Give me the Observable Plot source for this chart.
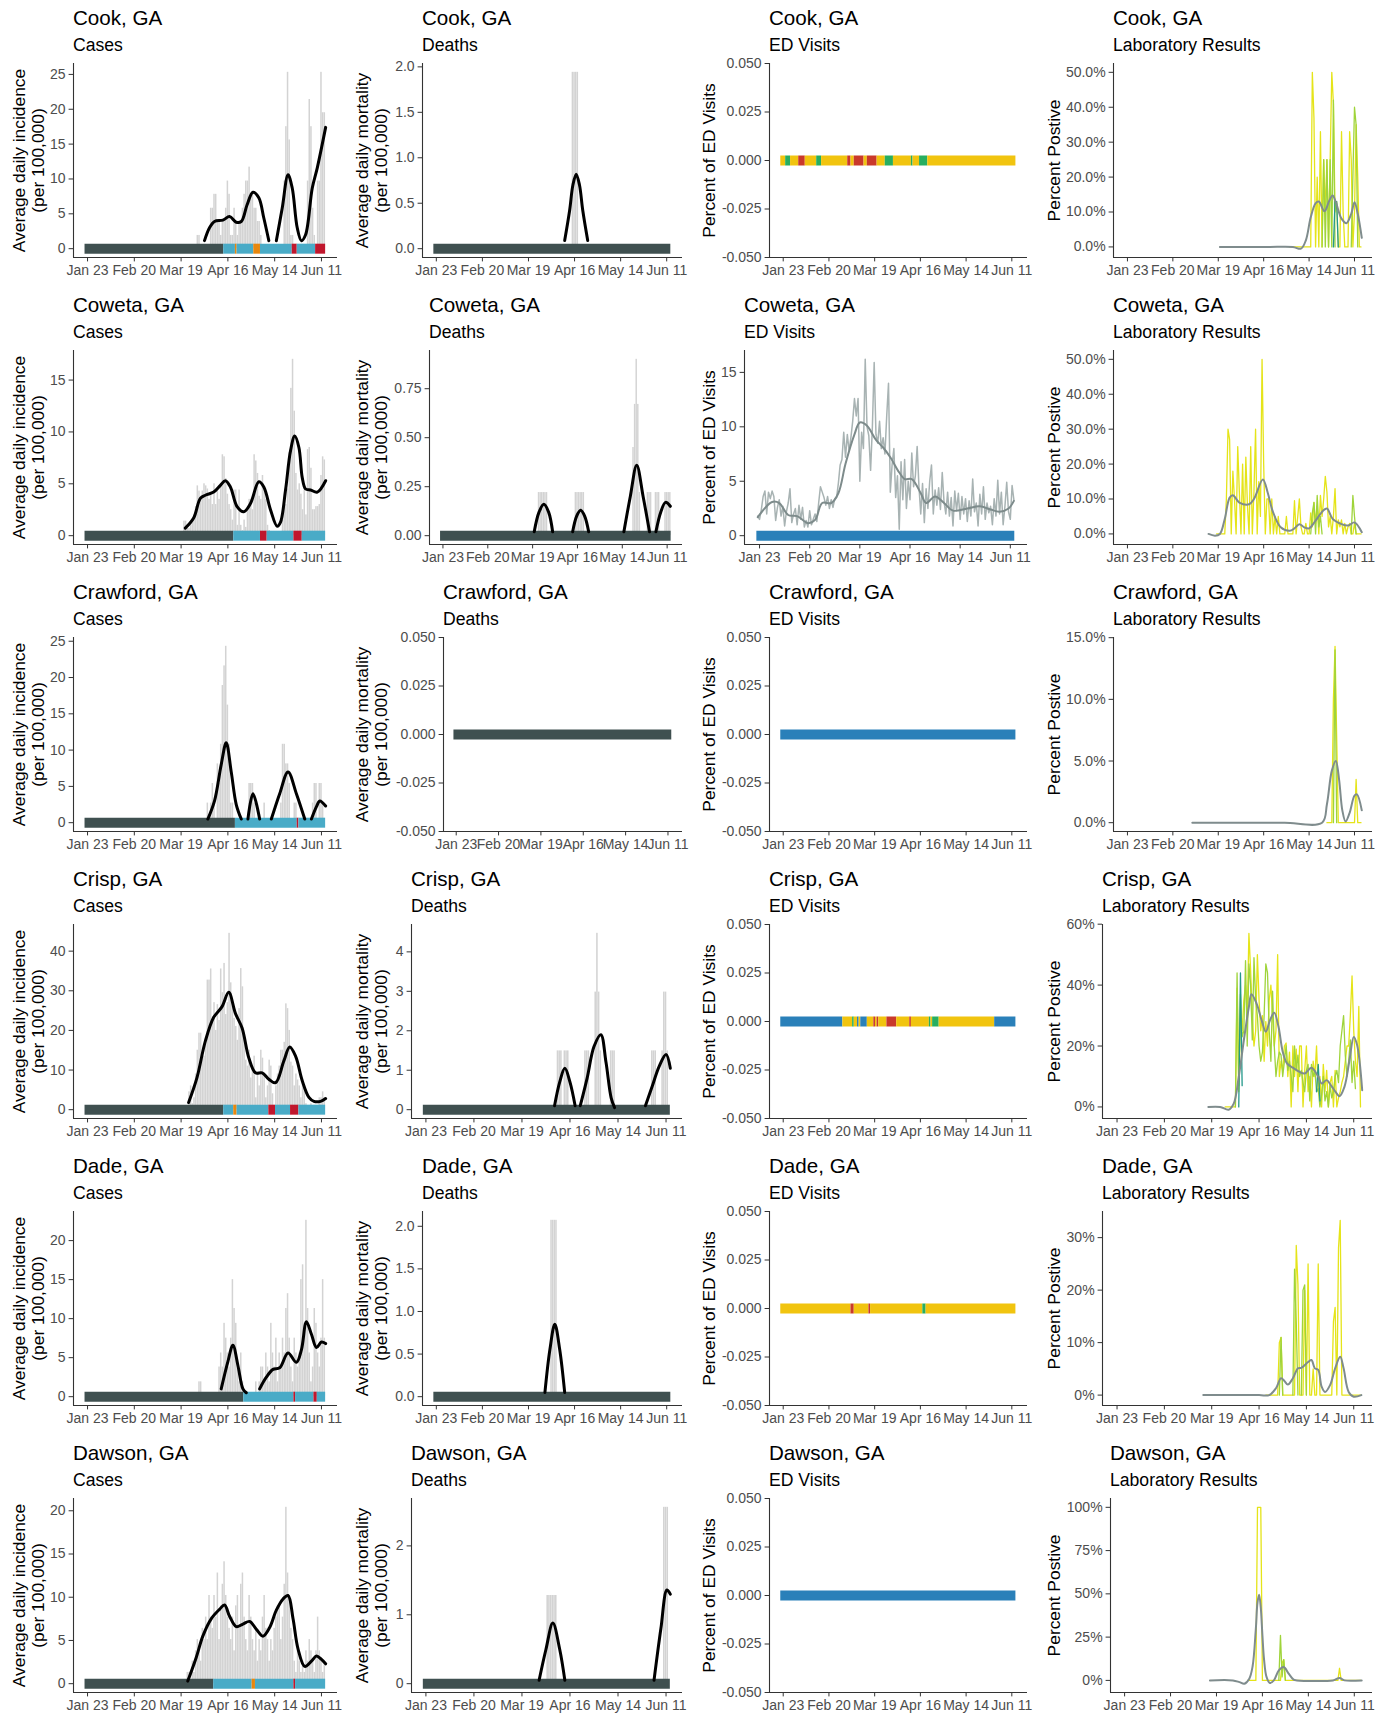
<!DOCTYPE html>
<html>
<head>
<meta charset="utf-8">
<script src="https://cdn.jsdelivr.net/npm/d3@7"></script>
<script src="https://cdn.jsdelivr.net/npm/@observablehq/plot@0.6"></script>
<style>
  body { margin: 0; background: #fff; font-family: "Liberation Sans", Arial, sans-serif; }
  #grid { display: grid; grid-template-columns: 344px 344px 344px 345px; grid-auto-rows: 287px; width: 1377px; }
  .cell { position: relative; }
  .cell .title { position: absolute; top: 6px; font-size: 20.6px; line-height: 24px; color: #000; white-space: nowrap; }
  .cell .subtitle { position: absolute; top: 35px; font-size: 17.6px; line-height: 20px; color: #000; white-space: nowrap; }
  .cell svg { position: absolute; left: 0; top: 56px; }
  g[aria-label="x-axis tick label"], g[aria-label="y-axis tick label"] { fill: #4d4d4d; }
</style>
</head>
<body>
<div id="grid"></div>
<script>
// ---------------------------------------------------------------------------
// Data. Days are day-of-year 2020 (Jan 1 = 1). Daily series carry a start day.
// ---------------------------------------------------------------------------
const counties = ["Cook, GA", "Coweta, GA", "Crawford, GA", "Crisp, GA", "Dade, GA", "Dawson, GA"];
const panelNames = ["Cases", "Deaths", "ED Visits", "Laboratory Results"];
const xTickDays = [23, 51, 79, 107, 135, 163];   // Jan 23 ... Jun 11
const statusStartDay = 22;                         // status bands begin Jan 22

// ---- Cook ----
const cookCasesStart = 88;
const cookCases = [0,1.9,1.9,0,0,0,0,0,0,5.8, 5.8,7.8,7.8,3.9,3.9,1.9,3.9,3.9,5.8,9.7, 7.8,1.9,1.9,5.8,3.9,1.9,3.9,3.9,5.8,7.8,
  9.7,9.7,11.7,7.8,7.8,5.8,5.8,3.9,3.9,1.9, 0,0,0,0,0,0,0,0,0,0, 0,0,0,9.7,17.5,25.3,15.6,1.9,1.9,0,
  0,0,0,0,0,0,0,9.7,21.4,17.5, 5.8,1.9,0,9.7,9.7,25.3,19.5,19.5];
const cookCasesTrend = [[93,1.15],[96,3.0],[99,3.9],[104,4.1],[108,4.6],[112,3.8],[115,3.9],[118.5,6.3],[122,8.1],[125.5,7.3],
  [128.5,4.4],[131.5,1.15],[133,null],[136,1.15],[139.5,5.8],[143,10.6],[145.5,8.7],[148.5,3.0],[151,1.15],[153.5,2.0],
  [157.5,8.7],[160.5,11.6],[165.5,17.4]];
const cookCaseStatus = [["pre",83],["low",7],["mid",1],["low",10],["mid",4],["low",19],["high",3],["low",11],["high",6]];
const cookDeaths = [[106,1.94],[107,1.94],[108,1.94],[109,1.94]];
const cookDeathsTrend = [[101,0.09],[104,0.42],[106,0.7],[108,0.82],[110,0.7],[112,0.42],[115,0.09]];
const cookEdStatus = [["stable",3],["decreasing",3],["stable",5],["increasing",4],["stable",7],["decreasing",3],["stable",16],
  ["increasing",2],["stable",2],["increasing",6],["stable",2],["increasing",6],["stable",5],["decreasing",5],["stable",11],
  ["decreasing",1],["stable",4],["decreasing",5],["stable",54]];
const cookLabTrend = [[80,0],[95,0],[110,0],[125,0],[130,-0.5],[133,1.9],[136,8.5],[139,12.5],[141,13],[144.5,10.2],
  [147.5,13.3],[149.5,14.7],[151.5,12.8],[155,8.1],[158,6.8],[161,9.5],[163,12.8],[165,9.5],[167.5,2.6]];
const cookLabYellowStart = 123;
const cookLabYellow = [0,0,0,0,0,0,0,0,0,0, 0,0,0,0,50,37,0,20,0,33, 0,25,10,25,0,25,50,41,10,13,
  0,0,33,10,0,0,0,33,25,0, 10,35,20,0,0];
const cookLabGreenStart = 143;
const cookLabGreen = [0,25,0,25,0,25,0,42,0,null,null,null,null,null,null,null,null,null,0,20,40,35,0];
const cookLabTealStart = 150;
const cookLabTeal = [0,13,13,0];

// ---- Coweta ----
const cowetaCasesStart = 80;
const cowetaCases = [0,1.4,1.4,0.7,0.7,1.0,1.4,2.0,2.8,4.8, 4.3,3.6,4.3,5.0,4.8,4.5,3.5,4.0,3.0,5.0,
  3.0,4.5,3.5,5.0,7.8,7.6,5.5,4.0,3.0,2.5, 1.5,4.4,4.4,1.0,4.4,1.0,0.5,1.5,0.8,2.5,
  3.5,3.5,2.5,7.8,7.2,6.0,3.8,3.5,5.8,4.5, 3.5,1.0,0.5,0.3,0.3,0.3,0.3,0.3,0.3,0.3,
  1.5,3.0,3.0,4.5,8.0,14.2,17.0,12.0,6.0,4.4, 5.0,4.0,2.5,5.0,2.0,8.3,8.5,6.5,2.5,2.5, 2.8,2.8,3.0,5.8,7.6,7.3];
const cowetaCasesTrend = [[81.5,0.73],[86.5,1.7],[90.5,3.6],[93.5,3.9],[98.5,4.2],[102.5,4.85],[105.5,5.3],[108.5,4.7],
  [112.5,2.8],[116.5,2.3],[120.5,3.1],[125.5,5.2],[128.5,4.7],[132.5,2.5],[136.5,0.9],[138.5,1.3],[141.5,4.4],[144.5,8.2],
  [147,9.6],[149.5,8.5],[151.5,5.6],[153.5,4.5],[156.5,4.4],[160.5,4.2],[165.5,5.3]];
const cowetaCaseStatus = [["pre",89],["low",16],["high",4],["low",16],["high",5],["low",14]];
const cowetaDeaths = [[83,0.22],[84,0.22],[85,0.22],[86,0.22],[87,0.22],[88,0.22],[106,0.22],[107,0.22],[108,0.22],
  [109,0.22],[110,0.22],[111,0.22],[142,0.45],[143,0.67],[144,0.9],[145,0.67],[146,0.22],[151,0.22],[152,0.22],[153,0.22],
  [156,0.22],[157,0.22],[158,0.22],[162,0.22],[163,0.22],[164,0.22],[165,0.22]];
const cowetaDeathsTrend = [[80,0.02],[83,0.12],[86,0.16],[89,0.12],[91.5,0.02],[93,null],[104,0.02],[106.5,0.1],[109,0.13],
  [111.5,0.1],[114,0.02],[116,null],[136,0.02],[140,0.2],[144,0.36],[148,0.2],[152,0.02],[154,null],[156,0.02],[159,0.12],
  [162,0.17],[165,0.15]];
const cowetaEdStart = 22;
const cowetaEd = [1.8,1.5,2.4,3.6,4.1,2.0,4.0,3.4,4.1,3.6, 1.4,2.6,3.3,1.8,2.7,0.9,2.2,3.0,4.3,1.2,
  2.0,2.5,1.0,2.8,1.5,2.6,0.8,1.4,0.8,2.3, 1.0,1.5,2.0,1.3,3.0,4.5,4.0,3.5,2.8,3.6,
  2.5,3.3,2.6,3.4,3.5,4.8,6.5,7.0,9.5,7.2, 9.3,7.8,9.0,10.5,12.6,11.0,12.6,5.0,9.5,8.0,
  16.2,10.0,9.2,6.0,10.0,15.9,9.3,8.5,10.5,8.0, 9.0,7.5,11.0,14.0,4.0,6.5,8.0,3.5,5.5,0.6,
  6.8,3.3,7.0,2.5,5.0,3.3,7.6,4.5,5.5,8.2, 4.5,2.0,4.8,1.2,4.3,2.5,5.0,6.5,2.0,4.2,
  2.8,4.4,2.4,5.8,3.1,2.0,4.0,1.8,3.5,0.9, 4.1,2.3,3.9,1.5,3.6,2.0,3.4,1.3,3.2,1.8,
  5.2,2.2,3.0,0.9,3.8,2.0,4.5,1.5,3.0,2.1, 2.7,1.0,3.4,1.8,5.1,2.0,4.0,1.0,2.7,4.9, 2.2,1.5,4.6,3.3];
const cowetaEdTrend = [[22,1.7],[30,3.1],[34,3.0],[39,1.9],[44,1.8],[50,1.15],[54,1.45],[58,3.0],[63,3.0],[67,3.9],[71,6.6],
  [76,9.3],[79,10.4],[83,10.1],[88,8.8],[92,8.1],[96,7.2],[101,5.8],[104,5.2],[108,5.2],[113,3.9],[116,3.0],[121,3.6],
  [126,3.0],[131,2.3],[139,2.5],[146,2.7],[152,2.4],[157,2.2],[162,2.5],[165,3.2]];
const cowetaEdStatus = [["insufficient",144]];
const cowetaLabTrend = [[73,0],[77,-0.5],[80,0],[83,4.3],[86,10.4],[88,11.1],[92,9],[98,8.5],[101,10],[106.5,15.6],
  [109.5,11.8],[112.5,6.6],[117.5,1.9],[123,0.9],[126,1.6],[129,2.8],[132,1.9],[135,1.6],[139,3.8],[143.5,6.6],[146,7.3],
  [149.5,4.3],[155,2.8],[159,2.4],[163,3.3],[167.5,0.5]];
const cowetaLabYellowStart = 78;
const cowetaLabYellow = [0,0,0,0,0,0, 10,30,27,0,18,10,0,25,12,0, 20,0,22,8,0,25,0,12,30,0, 15,5,50,20,0,10,10,0,10,0,
  5,0,5,0,0,0,0,5,0,0, 0,0,9.5,0,5,10,2,0,0,3, 0,0,6,2,9,3,8,0,11,5, 10,16.5,12,2,5,0,5,13,0,4,
  2,4,0,3,0,2,3,0,0,3, 0,0,0,0];
const cowetaLabGreenStart = 136;
const cowetaLabGreen = [0,6,9,0,11,2,5,0, null,null,null,null,null,null,null,null,null,null,null,null,null,null,null,null,null,
  0,11,5,0];

// ---- Crawford ----
const crawfordCasesStart = 95;
const crawfordCases = [2.7,0,2.7,5.4,2.7,0,8.1,5.4,10.8,18.9, 21.6,24.3,16.2,10.8,2.7,2.7,0,0,0,0,
  0,0,0,0,0,5.4,5.4,5.4,2.7,0, 0,0,0,0,2.7,0,0,0,0,0, 0,0,0,0,2.7,10.8,10.8,8.1,8.1,5.4,
  0,0,2.7,2.7,0,0,0,0,0,0, 0,0,0,2.7,5.4,5.4,0,5.4,5.4,2.7, 0];
const crawfordCasesTrend = [[95,0.5],[99,3],[103,8],[106,11],[109,7],[112,2.5],[115,0.5],[117,null],[119,0.5],[122,4],
  [126,0.5],[128,null],[133,0.5],[138,4],[143,7],[148,4],[153,0.5],[155,null],[157,0.5],[160,2.2],[162,3],[165.5,2.3]];
const crawfordCaseStatus = [["pre",90],["low",37],["high",1],["low",16]];
const crawfordDeaths = [];
const crawfordDeathsTrend = [];
const crawfordEdStatus = [["insufficient",144]];
const crawfordLabTrend = [[63,0],[80,0],[100,0],[120,0],[143,0],[146,1.5],[149,4.2],[151.5,5.0],[153.5,3.5],[155.5,1.0],
  [157.5,0.1],[160,0.8],[163,2.2],[164.5,2.3],[167.5,1.0]];
const crawfordLabYellowStart = 146;
const crawfordLabYellow = [0,0,0,0,10,14.3,7,0,0,0,0,0,0,0,0,0,0,0,3.5,0,0,0];
const crawfordLabGreenStart = 150;
const crawfordLabGreen = [0,14,0];

// ---- Crisp ----
const crispCasesStart = 84;
const crispCases = [4.5,6.0,1.5,3.0,9.0,15.0,19.3,19.3,13.5,13.5, 16.5,32.7,32.7,35.5,22.0,27.0,20.0,26.5,22.5,35.5,
  29.5,36.9,24.0,27.0,44.5,32.0,26.0,23.0,21.0,17.5, 25.5,35.6,31.0,18.0,12.5,11.0,15.0,8.0,11.0,13.5,
  3.0,9.5,6.0,15.0,13.0,9.0,3.0,6.0,12.5,11.0, 4.0,1.0,6.0,9.0,11.0,15.0,15.0,17.0,26.7,25.5,
  20.0,12.0,11.0,6.0,9.0,7.5,6.0,3.0,7.5,6.0, 1.5,0,0,1.5,0,0,0,0,3.0,3.0, 4.5,3.0];
const crispCasesTrend = [[83.5,1.8],[88.5,8.1],[93.5,17.3],[98.5,23.3],[103.5,26],[107.5,29.6],[111.5,24.3],[115.5,20.6],
  [119.5,13.1],[123.5,9.3],[127.5,9.3],[131.5,7.7],[135.5,6.8],[140.5,12.3],[144,15.8],[147.5,13.5],[151.5,7.3],[155.5,3.1],
  [158.5,2.1],[162.5,2.1],[165.5,2.8]];
const crispCaseStatus = [["pre",83],["low",6],["mid",2],["low",19],["high",4],["low",9],["high",5],["low",16]];
const crispDeaths = [[100,1.49],[101,1.49],[102,1.49],[104,1.49],[105,1.49],[106,1.49],[116,1.49],[117,1.49],[118,1.49],
  [122,2.98],[123,4.47],[124,2.98],[125,1.49],[131,1.49],[132,1.49],[133,1.49],[155,1.49],[156,1.49],[157,1.49],
  [161,1.49],[162,2.98],[163,2.98],[164,1.49]];
const crispDeathsTrend = [[98,0.1],[101,0.7],[104,1.05],[107,0.7],[110,0.1],[111,null],[113,0.1],[117,0.8],[121,1.6],[125,1.9],
  [128,1.2],[131,0.3],[133,0.05],[134,null],[151,0.1],[155,0.6],[159,1.1],[163,1.4],[165.5,1.05]];
const crispEdStatus = [["insufficient",38],["stable",6],["decreasing",1],["stable",2],["insufficient",1],["stable",1],
  ["insufficient",4],["stable",4],["increasing",1],["stable",1],["increasing",1],["stable",5],["increasing",6],["stable",8],
  ["increasing",1],["stable",11],["decreasing",1],["stable",1],["decreasing",4],["stable",34],["insufficient",13]];
const crispLabTrend = [[77,0],[84,0],[89,-0.9],[92,1.1],[95,9.9],[98,21.9],[101,32.9],[102.5,37],[105.5,34],[108.5,28.5],
  [111,24.7],[113.5,28.5],[116,30.9],[118.5,26.3],[121,18.1],[123.5,14.3],[127,12.9],[131,11.5],[134,11],[138,12.9],
  [142,9.9],[144,7.7],[147,8.8],[149.5,7.1],[153,4.4],[154.5,3.5],[157.5,6.6],[160.5,15.4],[163,23],[165,20.3],[168,5.5]];
const crispLabYellowStart = 87;
const crispLabYellow = [0,0,0,0,0,0,0, 39,5,30,25,35,40,30,57,45,30, 20,25,50,35,25,30,15,28,20,35,
  40,30,20,25,50,10,15,12,20,21, 10,18,0,20,10,19,5,20,20,0, 12,20,5,10,0,15,10,20,5,10,
  0,14,5,12,0,8,10,0,12,0, 3,5,8,10,15,20,20,30,43,25, 15,10,33,0];
const crispLabGreenStart = 93;
const crispLabGreen = [0,44,7,37,23,25,48,20,47,40, 22,49,35,30,20,15,18,30,47,44, 25,15,38,20,10,15,18,17,10,15,
  20,12,15,10,5,20,12,17,10,12, 8,5,12,14,2,14,10,12,5,6, 0,4,10,2,5,0,7,3,5,10, 12,8,20,25,30,17,10,15,22,8, 15,6];
const crispLabTealStart = 95;
const crispLabTeal = [0,44,7];
const crispLabTeal2Start = 141;
const crispLabTeal2 = [5,14,2];

// ---- Dade ----
const dadeCasesStart = 90;
const dadeCases = [1.9,1.9,0,0,0,0,0,0,0,0, 0,0,3.8,5.6,3.8,9.4,7.5,5.6,3.8,7.5, 15.0,11.3,9.4,3.8,1.9,5.6,1.9,0,0,0,
  0,0,0,0,1.9,0,1.9,3.8,3.8,1.9, 5.6,3.8,1.9,9.4,5.6,3.8,7.5,1.9,5.6,3.8, 7.5,5.6,11.3,13.2,7.5,3.8,1.9,7.5,5.6,3.8,
  5.6,15.0,16.9,9.4,22.6,11.3,5.6,1.9,3.8,11.3, 9.4,5.6,3.8,7.5,15.0,7.5];
const dadeCasesTrend = [[103,1],[107,4.5],[110,6.6],[113,4],[116,1],[118,0.5],[120,null],[126,1],[130,2.5],[134,3.5],
  [138,3.7],[143,5.6],[148,4.4],[151,6],[154,9.6],[157,8],[160,6.3],[163,7],[165.5,6.8]];
const dadeCaseStatus = [["pre",95],["low",30],["high",1],["low",11],["high",2],["low",5]];
const dadeDeaths = [[93,2.07],[94,2.07],[95,2.07],[96,2.07]];
const dadeDeathsTrend = [[89,0.05],[92,0.55],[95,0.85],[98,0.55],[101,0.05]];
const dadeEdStatus = [["stable",43],["increasing",2],["stable",9],["increasing",1],["stable",32],["decreasing",2],["stable",55]];
const dadeLabTrend = [[74,0],[107,0],[113,0],[117,1.3],[120,3.2],[122,2.7],[124,2.0],[127,3.2],[130,5.1],[132,5.2],
  [136,6.3],[138,6.7],[140,5.1],[142,4.8],[144,1.6],[146,0.6],[149,1.9],[152,5.1],[155,7.3],[157,5.1],[160,0.6],[163,-0.3],
  [167.5,0]];
const dadeLabYellowStart = 111;
const dadeLabYellow = [0,0,0,0,0,0,0,0, 10,11,0,0,0,0,0,0,0,0, 28.5,21,0,0,0,20,0,25,0,0,
  5,0,0,25,0,0,0,0,0,0, 0,0,14,16.7,0,28,33.3,0,0,0, 0,0,0,0,0,0,0,0,0];
const dadeLabGreenStart = 119;
const dadeLabGreen = [0,11,0,null,null,null,null,null,0,24,14,0,null,0,20,21,0];

// ---- Dawson ----
const dawsonCasesStart = 83;
const dawsonCases = [1.3,1.3,0,2.6,1.3,3.8,5.1,3.8,2.6,6.4, 5.1,7.7,5.1,10.2,7.7,6.4,10.2,7.7,12.8,5.1,
  9.0,11.5,14.1,10.2,7.7,6.4,5.1,7.7,3.8,9.0, 10.2,6.4,11.5,12.8,7.7,5.1,3.8,10.2,7.7,5.1,
  3.8,6.4,2.6,5.1,3.8,7.7,10.2,6.4,5.1,2.6, 5.1,3.8,6.4,7.7,9.0,9.0,5.1,7.7,11.5,20.4,
  12.8,10.2,6.4,5.1,2.6,1.3,3.8,2.6,1.3,2.6, 1.3,3.8,2.6,5.1,3.8,2.6,1.3,3.8,7.7,3.8, 2.6,1.3,2.6];
const dawsonCasesTrend = [[83,0.3],[88,3.0],[92,5.5],[97,7.5],[102,8.6],[105,9.1],[108,7.8],[112,6.6],[116,6.9],[120,7.2],
  [124,6.3],[128,5.5],[132,6.5],[136,8.5],[140,9.8],[143,10.2],[146,7.5],[149,4],[153,2.0],[157,2.6],[160,3.2],[163,2.8],
  [165.5,2.3]];
const dawsonCaseStatus = [["pre",77],["low",23],["mid",2],["low",23],["high",1],["low",18]];
const dawsonDeaths = [[94,1.28],[95,1.28],[96,1.28],[97,1.28],[98,1.28],[99,1.28],[162,2.56],[163,2.56],[164,2.56]];
const dawsonDeathsTrend = [[89,0.05],[93,0.5],[97,0.88],[101,0.5],[104,0.05],[106,null],[156,0.05],[160,0.8],[163.5,1.36],
  [165.5,1.3]];
const dawsonEdStatus = [["insufficient",144]];
const dawsonLabTrend = [[75,0],[89,0],[93,-1],[96,-1.9],[99,1],[101,8],[103,30],[104,45],[105,49.5],[106,42],[107,26],
  [108,12],[109.5,2],[111.5,-1.5],[114,0],[117,5.8],[120,7.7],[123,3.9],[126,0.4],[128,0],[150,0],[154,1.4],[157,0],[167.5,0]];
const dawsonLabYellowStart = 98;
const dawsonLabYellow = [0,0,0,0,0, 0,100,100,100,0, 0,0,0,0,0,0,0,0,0,0,0, 10,12,0,
  0,0,0,0,0,0,0,0,0,0,0,0,0,0,0,0,0,0,0,0,0,0,0,0,0,0,0,0,0,0,0, 0,7,0, 0,0,0,0,0,0,0,0,0,0,0,0];
const dawsonLabGreenStart = 117;
const dawsonLabGreen = [0,26,2,12,0];

// Axis ticks for each panel (Cases, Deaths, ED Visits, Laboratory Results)
const caseTicks = [[0,5,10,15,20,25],[0,5,10,15],[0,5,10,15,20,25],[0,10,20,30,40],[0,5,10,15,20],[0,5,10,15,20]];
const deathTicks = [[0,0.5,1,1.5,2],[0,0.25,0.5,0.75],[-0.05,-0.025,0,0.025,0.05],[0,1,2,3,4],[0,0.5,1,1.5,2],[0,1,2]];
const deathDecimals = [1, 2, 3, 0, 1, 0];
const edTicks = [[-0.05,-0.025,0,0.025,0.05],[0,5,10,15],[-0.05,-0.025,0,0.025,0.05],[-0.05,-0.025,0,0.025,0.05],
  [-0.05,-0.025,0,0.025,0.05],[-0.05,-0.025,0,0.025,0.05]];
const edDecimals = [3, 0, 3, 3, 3, 3];
const labTicks = [[0,10,20,30,40,50],[0,10,20,30,40,50],[0,5,10,15],[0,20,40,60],[0,10,20,30],[0,25,50,75,100]];
const labDecimals = [1, 1, 1, 0, 0, 0];

// ---------------------------------------------------------------------------
// Helpers
// ---------------------------------------------------------------------------
const DAY = 864e5, T0 = Date.UTC(2020, 0, 0);
const toDate = doy => new Date(T0 + doy * DAY);
const daily = (start, values) => values.map((v, i) => ({doy: start + i, date: toDate(start + i), value: v}));
const pairs = list => list.map(([doy, v]) => ({doy, date: toDate(doy), value: v}));
const statusRuns = list => {
  let d = statusStartDay;
  return list.map(([status, n]) => { const seg = {x1: toDate(d - 0.5), x2: toDate(d + n - 0.5), status}; d += n; return seg; });
};

const caseColors = {pre: "#3f5050", low: "#49abc7", mid: "#e8870e", high: "#c0172d"};
const edColors = {stable: "#f1c40f", increasing: "#c9392b", decreasing: "#27ae60", insufficient: "#2a80b9"};
const labColors = {yellow: "#e5e419", green: "#9fd43a", teal: "#23988a"};

const xDomainMain = [toDate(14.6), toDate(172.6)];
const xDomainLab = [toDate(14.4), toDate(174.1)];
const marginLeft = [[73,78,81,81],[73,85,56,81],[73,99,81,81],[73,67,81,70],[73,78,81,70],[73,67,81,78]];
const marginRight = [7, 6, 5, 5];
const labelCenter = [27.5, 27, 20, 21];

const barMark = data => Plot.rect(data, {
  x1: d => toDate(d.doy - 0.45), x2: d => toDate(d.doy + 0.45), y1: 0, y2: "value", fill: "#d3d3d3"
});
const bandMark = (runs, colors) => Plot.ruleY(statusRuns(runs), {
  y: 0, x1: "x1", x2: "x2", stroke: d => colors[d.status], strokeWidth: 10
});
const lineMark = (data, stroke, strokeWidth, curve = "linear") => Plot.line(data, {
  x: "date", y: "value", stroke, strokeWidth, curve
});

const grid = document.getElementById("grid");

function addPanel(row, col, {label, ticks, decimals, suffix = "", lab = false, layers, values}) {
  const ml = marginLeft[row][col];
  const width = col === 3 ? 345 : 344;
  const vals = values.filter(v => v != null && Number.isFinite(v));
  let lo = Math.min(0, d3.min(vals) ?? 0), hi = Math.max(0, d3.max(vals) ?? 0);
  if (hi === lo) { lo = -0.05; hi = 0.05; } else { const pad = 0.05 * (hi - lo); lo -= pad; hi += pad; }
  const xDomain = lab ? xDomainLab : xDomainMain;
  const svg = Plot.plot({
    width, height: 231,
    marginLeft: ml, marginRight: marginRight[col], marginTop: 7, marginBottom: 30,
    style: {fontFamily: "'Liberation Sans', Arial, sans-serif", fontSize: "14px", color: "#333", background: "transparent", overflow: "visible"},
    x: {type: "utc", domain: xDomain, ticks: xTickDays.map(toDate), tickFormat: d3.utcFormat("%b %d"),
        tickSize: 4.4, tickPadding: 3.5, label: null},
    y: {domain: [lo, hi], ticks, tickFormat: d => d.toFixed(decimals) + suffix, tickSize: 4.4, tickPadding: 3.5, label: null},
    color: {type: "identity"},
    marks: [
      ...layers,
      Plot.ruleX([xDomain[0]], {stroke: "#333", strokeWidth: 1.1}),
      Plot.ruleY([lo], {stroke: "#333", strokeWidth: 1.1}),
      Plot.text([label], {text: d => d, frameAnchor: "left", textAnchor: "middle", lineAnchor: "middle",
        dx: labelCenter[col] - ml, rotate: -90, fontSize: 17.4, lineHeight: 1.1, fill: "#000"})
    ]
  });
  const cell = document.createElement("div");
  cell.className = "cell";
  cell.style.gridRow = String(row + 1);
  cell.style.gridColumn = String(col + 1);
  const t = document.createElement("div"); t.className = "title"; t.style.left = ml + "px"; t.textContent = counties[row];
  const s = document.createElement("div"); s.className = "subtitle"; s.style.left = ml + "px"; s.textContent = panelNames[col];
  cell.append(t, s, svg);
  grid.append(cell);
}

function casesPanel(row, start, bars, trend, status) {
  const b = daily(start, bars), tr = pairs(trend);
  addPanel(row, 0, {
    label: "Average daily incidence\n(per 100,000)", ticks: caseTicks[row], decimals: 0,
    layers: [barMark(b), bandMark(status, caseColors), lineMark(tr, "#000", 3, "catmull-rom")],
    values: [...b.map(d => d.value), ...tr.map(d => d.value)]
  });
}

function deathsPanel(row, bars, trend) {
  const b = pairs(bars), tr = pairs(trend);
  addPanel(row, 1, {
    label: "Average daily mortality\n(per 100,000)", ticks: deathTicks[row], decimals: deathDecimals[row],
    layers: [barMark(b), bandMark([["pre", 144]], caseColors), lineMark(tr, "#000", 3, "catmull-rom")],
    values: [...b.map(d => d.value), ...tr.map(d => d.value)]
  });
}

function edPanel(row, status, raw = [], trend = []) {
  const tr = pairs(trend);
  addPanel(row, 2, {
    label: "Percent of ED Visits", ticks: edTicks[row], decimals: edDecimals[row],
    layers: [bandMark(status, edColors), lineMark(raw, "#a8b3b3", 1.5), lineMark(tr, "#7d8b8b", 2, "catmull-rom")],
    values: [...raw.map(d => d.value), ...tr.map(d => d.value)]
  });
}

function labPanel(row, series, trend) {
  const tr = pairs(trend);
  addPanel(row, 3, {
    label: "Percent Postive", ticks: labTicks[row], decimals: labDecimals[row], suffix: "%", lab: true,
    layers: [...series.map(([data, color]) => lineMark(data, labColors[color], 1.3)), lineMark(tr, "#7f8c8d", 2, "catmull-rom")],
    values: [...series.flatMap(([data]) => data.map(d => d.value)), ...tr.map(d => d.value)]
  });
}

// ---------------------------------------------------------------------------
// Panels, row by row
// ---------------------------------------------------------------------------
casesPanel(0, cookCasesStart, cookCases, cookCasesTrend, cookCaseStatus);
deathsPanel(0, cookDeaths, cookDeathsTrend);
edPanel(0, cookEdStatus);
labPanel(0, [[daily(cookLabYellowStart, cookLabYellow), "yellow"], [daily(cookLabGreenStart, cookLabGreen), "green"],
  [daily(cookLabTealStart, cookLabTeal), "teal"]], cookLabTrend);

casesPanel(1, cowetaCasesStart, cowetaCases, cowetaCasesTrend, cowetaCaseStatus);
deathsPanel(1, cowetaDeaths, cowetaDeathsTrend);
edPanel(1, cowetaEdStatus, daily(cowetaEdStart, cowetaEd), cowetaEdTrend);
labPanel(1, [[daily(cowetaLabYellowStart, cowetaLabYellow), "yellow"], [daily(cowetaLabGreenStart, cowetaLabGreen), "green"]],
  cowetaLabTrend);

casesPanel(2, crawfordCasesStart, crawfordCases, crawfordCasesTrend, crawfordCaseStatus);
deathsPanel(2, crawfordDeaths, crawfordDeathsTrend);
edPanel(2, crawfordEdStatus);
labPanel(2, [[daily(crawfordLabYellowStart, crawfordLabYellow), "yellow"], [daily(crawfordLabGreenStart, crawfordLabGreen), "green"]],
  crawfordLabTrend);

casesPanel(3, crispCasesStart, crispCases, crispCasesTrend, crispCaseStatus);
deathsPanel(3, crispDeaths, crispDeathsTrend);
edPanel(3, crispEdStatus);
labPanel(3, [[daily(crispLabYellowStart, crispLabYellow), "yellow"], [daily(crispLabGreenStart, crispLabGreen), "green"],
  [daily(crispLabTealStart, crispLabTeal), "teal"], [daily(crispLabTeal2Start, crispLabTeal2), "teal"]], crispLabTrend);

casesPanel(4, dadeCasesStart, dadeCases, dadeCasesTrend, dadeCaseStatus);
deathsPanel(4, dadeDeaths, dadeDeathsTrend);
edPanel(4, dadeEdStatus);
labPanel(4, [[daily(dadeLabYellowStart, dadeLabYellow), "yellow"], [daily(dadeLabGreenStart, dadeLabGreen), "green"]],
  dadeLabTrend);

casesPanel(5, dawsonCasesStart, dawsonCases, dawsonCasesTrend, dawsonCaseStatus);
deathsPanel(5, dawsonDeaths, dawsonDeathsTrend);
edPanel(5, dawsonEdStatus);
labPanel(5, [[daily(dawsonLabYellowStart, dawsonLabYellow), "yellow"], [daily(dawsonLabGreenStart, dawsonLabGreen), "green"]],
  dawsonLabTrend);
</script>
</body>
</html>
